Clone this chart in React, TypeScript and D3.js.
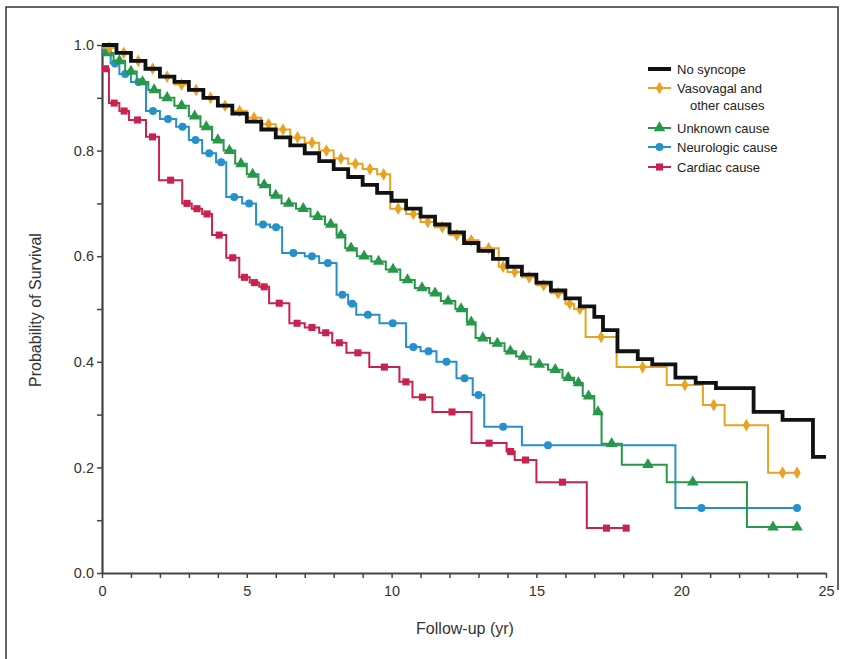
import { useEffect, useRef } from 'react';
import * as d3 from 'd3';

// Kaplan-Meier steps: time (yr) and survival at which each step starts
const noSyncopeT = [0, 0.5, 1, 1.5, 2, 2.5, 3, 3.5, 4, 4.5, 5, 5.5, 6, 6.5, 7, 7.5, 8, 8.5, 9, 9.5, 10, 10.5, 11, 11.5, 12, 12.5, 13, 13.5, 14, 14.5, 15, 15.5, 16, 16.5, 17, 17.3, 17.8, 18.5, 19, 19.8, 20.5, 21.2, 22.5, 23.5, 24.55];
const noSyncopeS = [1.0, 0.985, 0.97, 0.955, 0.94, 0.93, 0.915, 0.9, 0.885, 0.87, 0.855, 0.84, 0.825, 0.81, 0.795, 0.78, 0.765, 0.75, 0.735, 0.72, 0.705, 0.69, 0.675, 0.66, 0.645, 0.625, 0.61, 0.595, 0.58, 0.565, 0.55, 0.535, 0.52, 0.505, 0.485, 0.46, 0.42, 0.405, 0.395, 0.37, 0.36, 0.35, 0.305, 0.29, 0.22];
const noSyncopeEnd = 25;

const vasovagalT = [0, 0.5, 1, 1.5, 2, 2.5, 3, 3.5, 4, 4.5, 5, 5.5, 6, 6.5, 7, 7.5, 8, 8.5, 9, 9.5, 9.95, 10.5, 11, 11.5, 12, 12.5, 13, 13.7, 14, 14.5, 15, 15.5, 16, 16.3, 16.7, 17.77, 19.5, 20.75, 21.5, 23.0];
const vasovagalS = [0.995, 0.985, 0.97, 0.955, 0.94, 0.925, 0.915, 0.9, 0.885, 0.875, 0.862, 0.85, 0.84, 0.825, 0.815, 0.8, 0.785, 0.775, 0.765, 0.755, 0.69, 0.68, 0.665, 0.655, 0.64, 0.63, 0.615, 0.58, 0.57, 0.56, 0.545, 0.53, 0.51, 0.5, 0.447, 0.39, 0.356, 0.318, 0.28, 0.19];
const vasovagalEnd = 24;

const unknownT = [0, 0.4, 0.8, 1.2, 1.6, 2.0, 2.5, 3.0, 3.4, 3.8, 4.2, 4.6, 5.0, 5.4, 5.8, 6.2, 6.7, 7.2, 7.7, 8.1, 8.4, 8.8, 9.3, 9.8, 10.3, 10.8, 11.3, 11.7, 12.2, 12.6, 12.9, 13.4, 13.9, 14.3, 14.8, 15.4, 15.9, 16.3, 16.6, 17.0, 17.25, 17.95, 19.5, 22.27];
const unknownS = [0.985, 0.97, 0.95, 0.93, 0.915, 0.9, 0.885, 0.865, 0.845, 0.82, 0.8, 0.775, 0.755, 0.735, 0.715, 0.7, 0.69, 0.675, 0.66, 0.64, 0.615, 0.6, 0.59, 0.575, 0.555, 0.54, 0.53, 0.515, 0.5, 0.475, 0.445, 0.435, 0.42, 0.41, 0.395, 0.385, 0.37, 0.36, 0.335, 0.305, 0.245, 0.205, 0.172, 0.087];
const unknownEnd = 24;

const neuroT = [0, 0.3, 0.6, 1.0, 1.52, 2.0, 2.56, 3.0, 3.46, 3.94, 4.29, 4.84, 5.32, 5.8, 6.22, 7.0, 7.5, 8.1, 8.5, 8.78, 9.58, 10.5, 11.0, 11.55, 12.24, 12.8, 13.2, 14.5, 19.8];
const neuroS = [0.99, 0.965, 0.945, 0.93, 0.875, 0.86, 0.845, 0.82, 0.795, 0.778, 0.712, 0.7, 0.66, 0.655, 0.606, 0.6, 0.587, 0.527, 0.51, 0.489, 0.473, 0.428, 0.42, 0.4, 0.369, 0.337, 0.277, 0.242, 0.123];
const neuroEnd = 24;

const cardiacT = [0, 0.24, 0.6, 0.93, 1.52, 1.97, 2.77, 3.1, 3.46, 3.8, 4.29, 4.74, 5.1, 5.43, 5.77, 6.47, 7.0, 7.5, 7.95, 8.44, 9.23, 10.27, 10.72, 11.41, 12.76, 13.97, 14.25, 15.0, 16.74];
const cardiacS = [0.955, 0.89, 0.875, 0.858, 0.826, 0.744, 0.7, 0.69, 0.68, 0.64, 0.597, 0.56, 0.55, 0.542, 0.511, 0.473, 0.465, 0.455, 0.436, 0.417, 0.39, 0.362, 0.333, 0.305, 0.246, 0.23, 0.214, 0.172, 0.085];
const cardiacEnd = 18.1;

const legendLabels = [['No syncope'], ['Vasovagal and', 'other causes'], ['Unknown cause'], ['Neurologic cause'], ['Cardiac cause']];
const xTickLabels = [0, 5, 10, 15, 20, 25];
const yTickLabels = [0, 0.2, 0.4, 0.6, 0.8, 1.0];

type Series = { t: number[]; s: number[]; end: number; color: string; marker: string | null; width: number };

const series: Series[] = [
  { t: cardiacT, s: cardiacS, end: cardiacEnd, color: '#c8224f', marker: 'square', width: 2 },
  { t: neuroT, s: neuroS, end: neuroEnd, color: '#2590cc', marker: 'circle', width: 2 },
  { t: unknownT, s: unknownS, end: unknownEnd, color: '#27984a', marker: 'triangle', width: 2 },
  { t: vasovagalT, s: vasovagalS, end: vasovagalEnd, color: '#e9a323', marker: 'diamond', width: 2 },
  { t: noSyncopeT, s: noSyncopeS, end: noSyncopeEnd, color: '#111111', marker: null, width: 3.8 },
];

const symbolFor = (m: string) =>
  m === 'square' ? d3.symbolSquare : m === 'circle' ? d3.symbolCircle : m === 'triangle' ? d3.symbolTriangle : d3.symbolDiamond;
const symbolSize = (m: string) => (m === 'triangle' ? 58 : m === 'diamond' ? 46 : 50);

const App = () => {
  const svgRef = useRef<SVGSVGElement>(null);

  useEffect(() => {
    const width = 849;
    const height = 659;
    const svg = d3.select(svgRef.current);
    svg.selectAll('*').remove();
    svg.attr('width', width).attr('height', height);

    const font = 'Liberation Sans, Arial, sans-serif';

    // outer frame
    svg.append('path')
      .attr('d', 'M6,659 L6,7 L838,7 L838,590')
      .attr('fill', 'none')
      .attr('stroke', '#333')
      .attr('stroke-width', 1.5);

    const x = d3.scaleLinear().domain([0, 25]).range([102, 826]);
    const y = d3.scaleLinear().domain([0, 1]).range([573, 45]);

    // axes
    const xAxis = svg.append('g')
      .attr('transform', `translate(0,${y(0)})`)
      .call(d3.axisBottom(x).tickValues(d3.range(0, 26)).tickSize(5).tickSizeOuter(0)
        .tickFormat((d) => (xTickLabels.includes(+d) ? String(d) : '')));
    const yAxis = svg.append('g')
      .attr('transform', `translate(${x(0)},0)`)
      .call(d3.axisLeft(y).tickValues(d3.range(0, 11).map((i) => i / 10)).tickSize(5).tickSizeOuter(0)
        .tickFormat((d) => (yTickLabels.some((v) => Math.abs(v - +d) < 1e-6) ? d3.format('.1f')(+d) : '')));

    [xAxis, yAxis].forEach((g) => {
      g.select('.domain').attr('stroke', '#444').attr('stroke-width', 2.2);
      g.selectAll('.tick line').attr('stroke', '#444').attr('stroke-width', 1.5);
      g.selectAll('.tick text').attr('fill', '#333').attr('font-size', 14.5).attr('font-family', font);
    });
    xAxis.selectAll('.tick text').attr('dy', '1.05em');
    yAxis.selectAll('.tick text').attr('x', -8);

    // titles
    svg.append('text')
      .attr('x', 465).attr('y', 634)
      .attr('text-anchor', 'middle')
      .attr('font-size', 16).attr('font-family', font).attr('fill', '#333')
      .text('Follow-up (yr)');
    svg.append('text')
      .attr('transform', 'translate(41,310) rotate(-90)')
      .attr('text-anchor', 'middle')
      .attr('font-size', 16).attr('font-family', font).attr('fill', '#333')
      .text('Probability of Survival');

    const line = d3.line<[number, number]>()
      .x((d) => x(d[0]))
      .y((d) => y(d[1]))
      .curve(d3.curveStepAfter);

    series.forEach((sr) => {
      const pts: [number, number][] = sr.t.map((t, i) => [t, sr.s[i]]);
      pts.push([sr.end, sr.s[sr.s.length - 1]]);

      svg.append('path')
        .datum(pts)
        .attr('fill', 'none')
        .attr('stroke', sr.color)
        .attr('stroke-width', sr.width)
        .attr('d', line);

      if (sr.marker) {
        // censor marks: on each flat segment, and at the last follow-up time
        const marks: [number, number][] = sr.t.map((t, i) => {
          const next = i + 1 < sr.t.length ? sr.t[i + 1] : sr.end;
          const dt = next - t;
          const off = dt > 1.5 ? 0.9 : dt / 2;
          return [t + off, sr.s[i]];
        });
        marks.push([sr.end, sr.s[sr.s.length - 1]]);
        const sym = d3.symbol().type(symbolFor(sr.marker)).size(symbolSize(sr.marker));
        svg.append('g')
          .selectAll('path')
          .data(marks)
          .enter()
          .append('path')
          .attr('transform', (d) => `translate(${x(d[0])},${y(d[1])})`)
          .attr('d', sym)
          .attr('fill', sr.color);
      }
    });

    // legend
    const legendOrder = [...series].reverse();
    const rowY = [69, 88, 128, 147, 167];
    const lg = svg.append('g');
    legendOrder.forEach((sr, i) => {
      const yy = rowY[i];
      lg.append('line')
        .attr('x1', 648).attr('x2', 671).attr('y1', yy).attr('y2', yy)
        .attr('stroke', sr.color).attr('stroke-width', sr.marker ? 2 : 4);
      if (sr.marker) {
        lg.append('path')
          .attr('transform', `translate(659.5,${yy})`)
          .attr('d', d3.symbol().type(symbolFor(sr.marker)).size(symbolSize(sr.marker)))
          .attr('fill', sr.color);
      }
      legendLabels[i].forEach((txt, j) => {
        lg.append('text')
          .attr('x', j === 0 ? 677 : 690)
          .attr('y', yy + j * 17)
          .attr('dy', '0.35em')
          .attr('font-size', 13).attr('font-family', font).attr('fill', '#222')
          .text(txt);
      });
    });
  }, []);

  return <svg ref={svgRef} style={{ position: 'absolute', left: 0, top: 0, background: '#fff' }} />;
};

export default App;
